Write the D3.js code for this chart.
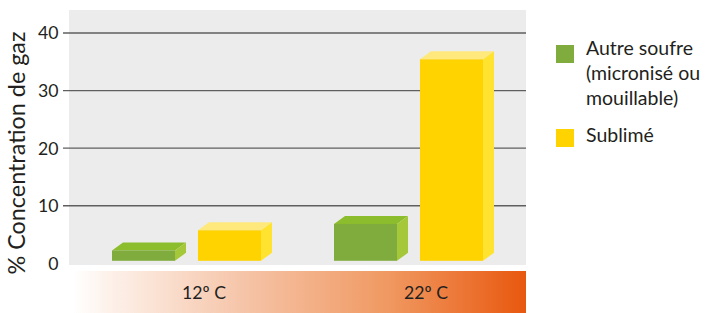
<!DOCTYPE html>
<meta charset="utf-8">
<head>
  <script src="https://d3js.org/d3.v7.min.js"></script>
  <style>
    body { margin: 0; background: #fff; }
    text { font-family: Lato, "Open Sans", sans-serif; fill: #231f20; }
  </style>
</head>
<body>
  <svg width="707" height="313"></svg>
  <script>
    // data
    var categories = ["12º C", "22º C"];
    var series = ["Autre soufre (micronisé ou mouillable)", "Sublimé"];
    var legendLines = [["Autre soufre", "(micronisé ou", "mouillable)"], ["Sublimé"]];
    var autreValues = [1.8, 6.4];
    var sublimeValues = [5.3, 35.0];
    var yTicks = [0, 10, 20, 30, 40];

    var colors = {
      front: ["#80ab3d", "#fed300"],
      top: ["#8cbd2c", "#ffe97c"],
      side: ["#a5c83a", "#ffe330"]
    };

    var svg = d3.select("svg");
    var plot = { left: 69, right: 526, top: 10, bottom: 265 };
    var depthX = 11, depthY = 8, base = 2.5;

    var y = d3.scaleLinear().domain([0, 40]).range([263.3, 33]);
    var x0 = d3.scaleBand().domain(categories).range([112, 556]);
    var x1 = d3.scaleBand().domain(series).range([0, 149]).paddingInner(0.267);

    // pick a font size so a sample string gets a given width
    function fitSize(sample, width) {
      var t = svg.append("text").style("font-size", "20px").text(sample);
      var w = t.node().getComputedTextLength();
      t.remove();
      return (20 * width / w).toFixed(2) + "px";
    }
    var titleSize = fitSize("% Concentration de gaz", 243);
    var legendSize = fitSize("Autre soufre", 107);
    var tickSize = fitSize("40", 20.5);
    var catSize = fitSize("12º C", 44);

    // grey panel
    svg.append("rect")
      .attr("x", plot.left).attr("y", plot.top)
      .attr("width", plot.right - plot.left).attr("height", plot.bottom - plot.top)
      .attr("fill", "#ececec");

    // grid lines (except zero)
    svg.append("g").selectAll("line")
      .data(yTicks.filter(function(d) { return d > 0; }))
      .join("line")
      .attr("x1", 63).attr("x2", plot.right)
      .attr("y1", function(d) { return y(d); })
      .attr("y2", function(d) { return y(d); })
      .attr("stroke", "#5f5f5f")
      .attr("stroke-width", 1.4);

    // y tick labels
    svg.append("g").selectAll("text")
      .data(yTicks)
      .join("text")
      .attr("x", 58.5)
      .attr("y", function(d) { return y(d); })
      .attr("dy", "0.36em")
      .attr("text-anchor", "end")
      .style("font-size", tickSize)
      .text(function(d) { return d; });

    // y title
    svg.append("text")
      .attr("transform", "translate(25,153) rotate(-90)")
      .attr("text-anchor", "middle")
      .style("font-size", titleSize)
      .text("% Concentration de gaz");

    // bars as 3d boxes
    var rows = [];
    categories.forEach(function(c, i) {
      rows.push({ cat: c, s: 0, v: autreValues[i] });
      rows.push({ cat: c, s: 1, v: sublimeValues[i] });
    });

    var bars = svg.append("g").selectAll("g")
      .data(rows)
      .join("g");

    function geo(d) {
      var bx = x0(d.cat) + x1(series[d.s]);
      var bw = x1.bandwidth();
      var bottom = y(0) - base;
      var top = y(d.v) - base;
      return { x: bx, w: bw, top: top, bottom: bottom };
    }

    bars.append("polygon")
      .attr("points", function(d) {
        var g = geo(d);
        return [[g.x, g.top], [g.x + depthX, g.top - depthY], [g.x + g.w + depthX, g.top - depthY], [g.x + g.w, g.top]].join(" ");
      })
      .attr("fill", function(d) { return colors.top[d.s]; });

    bars.append("polygon")
      .attr("points", function(d) {
        var g = geo(d);
        return [[g.x + g.w, g.top], [g.x + g.w + depthX, g.top - depthY], [g.x + g.w + depthX, g.bottom - depthY], [g.x + g.w, g.bottom]].join(" ");
      })
      .attr("fill", function(d) { return colors.side[d.s]; });

    bars.append("rect")
      .attr("x", function(d) { return geo(d).x; })
      .attr("y", function(d) { return geo(d).top; })
      .attr("width", x1.bandwidth())
      .attr("height", function(d) { var g = geo(d); return g.bottom - g.top; })
      .attr("fill", function(d) { return colors.front[d.s]; });

    // temperature gradient band
    var defs = svg.append("defs");
    var grad = defs.append("linearGradient").attr("id", "temp");
    grad.append("stop").attr("offset", "0%").attr("stop-color", "#ffffff");
    grad.append("stop").attr("offset", "8%").attr("stop-color", "#fdf1ea");
    grad.append("stop").attr("offset", "40%").attr("stop-color", "#f5c1a3");
    grad.append("stop").attr("offset", "70%").attr("stop-color", "#f09860");
    grad.append("stop").attr("offset", "100%").attr("stop-color", "#e8580f");

    svg.append("rect")
      .attr("x", 73).attr("y", 271)
      .attr("width", plot.right - 73).attr("height", 42)
      .attr("fill", "url(#temp)");

    svg.append("g").selectAll("text")
      .data(categories)
      .join("text")
      .attr("x", function(d) { return x0(d) + 92; })
      .attr("y", 299)
      .attr("text-anchor", "middle")
      .style("font-size", catSize)
      .text(function(d) { return d; });

    // legend
    var legend = svg.append("g").selectAll("g")
      .data(series)
      .join("g")
      .attr("transform", function(d, i) { return "translate(556," + (i === 0 ? 45 : 129) + ")"; });

    legend.append("rect")
      .attr("width", 18).attr("height", 18)
      .attr("fill", function(d, i) { return colors.front[i]; });

    legend.each(function(d, i) {
      d3.select(this).selectAll("text")
        .data(legendLines[i])
        .join("text")
        .attr("x", 30)
        .attr("y", function(t, j) { return (i === 0 ? 10 : 13) + j * 25; })
        .style("font-size", legendSize)
        .text(function(t) { return t; });
    });
  </script>
</body>
